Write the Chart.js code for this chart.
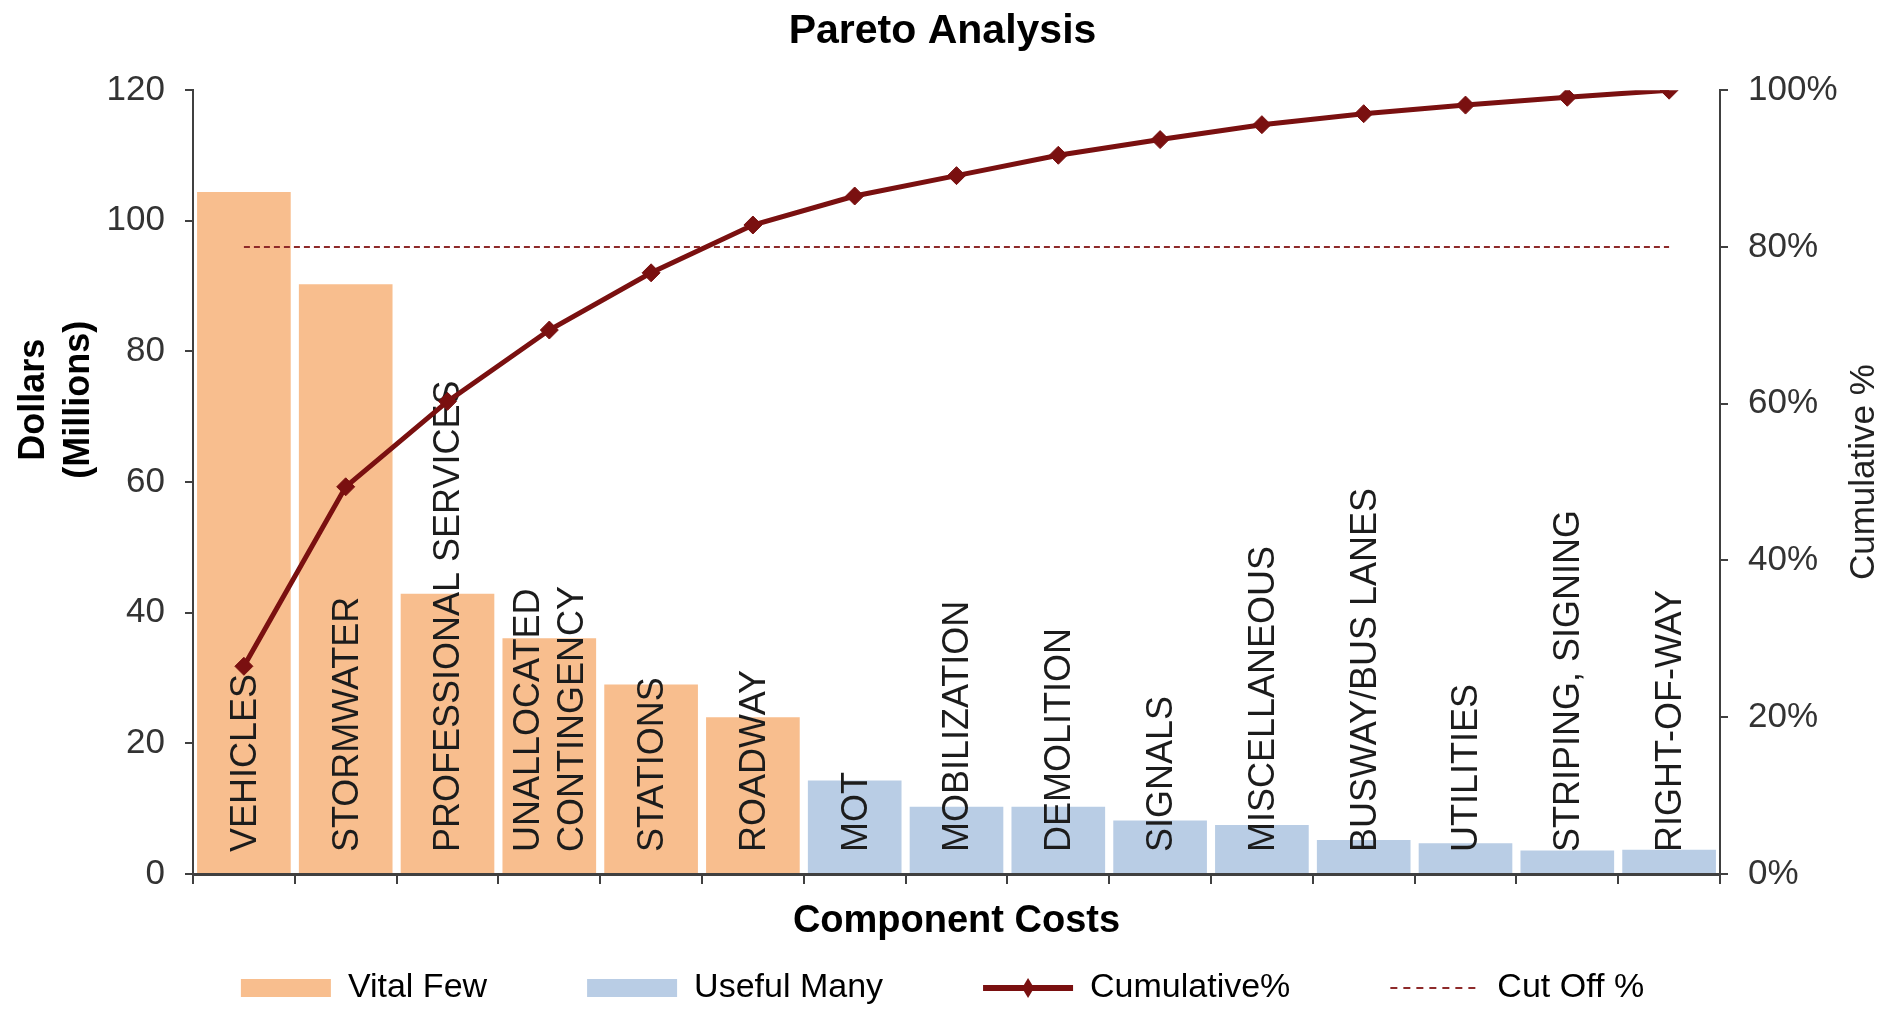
<!DOCTYPE html>
<html>
<head>
<meta charset="utf-8">
<script src="https://cdn.jsdelivr.net/npm/chart.js@4/dist/chart.umd.min.js"></script>
<style>
html, body { margin: 0; padding: 0; background: #ffffff; }
canvas { display: block; }
</style>
</head>
<body>
<canvas id="c" width="1885" height="1009"></canvas>
<script>
// ---- data ----
const categories = ['VEHICLES', 'STORMWATER', 'PROFESSIONAL SERVICES', 'UNALLOCATED\nCONTINGENCY', 'STATIONS', 'ROADWAY', 'MOT', 'MOBILIZATION', 'DEMOLITION', 'SIGNALS', 'MISCELLANEOUS', 'BUSWAY/BUS LANES', 'UTILITIES', 'STRIPING, SIGNING', 'RIGHT-OF-WAY'];
const vitalFew = [104.4, 90.3, 42.9, 36.1, 29.0, 24.0, null, null, null, null, null, null, null, null, null];
const usefulMany = [null, null, null, null, null, null, 14.3, 10.3, 10.3, 8.2, 7.5, 5.2, 4.7, 3.6, 3.7];
const cumulativePct = [26.5, 49.4, 60.3, 69.4, 76.7, 82.8, 86.5, 89.1, 91.7, 93.7, 95.6, 97.0, 98.1, 99.1, 100];
const cutOffPct = [80, 80, 80, 80, 80, 80, 80, 80, 80, 80, 80, 80, 80, 80, 80];
const seriesNames = ['Vital Few', 'Useful Many', 'Cumulative%', 'Cut Off %'];
const chartTitle = 'Pareto Analysis';
const xTitle = 'Component Costs';
const leftTitle = ['Dollars', '(Millions)'];
const rightTitle = 'Cumulative %';

// ---- styles ----
const FONT = "'Liberation Sans', Arial, Helvetica, sans-serif";
const ORANGE = '#F8BE8E';
const BLUE = '#B9CDE5';
const RED = '#7a1010';
const RED2 = '#8e2a2a';
const AXIS = '#404040';

Chart.defaults.font.family = FONT;
Chart.defaults.color = '#333';

let barsDrawn = 0;
const barLabels = {
  id: 'barLabels',
  beforeDatasetsDraw() { barsDrawn = 0; },
  afterDatasetDraw(chart, args) {
    if (args.meta.type !== 'bar') return;
    barsDrawn++;
    if (barsDrawn < 2) return;
    const ctx = chart.ctx;
    const xs = chart.scales.x;
    const base = chart.scales.y.getPixelForValue(0);
    ctx.save();
    ctx.font = '36px ' + FONT;
    ctx.fillStyle = '#1c1c1c';
    ctx.textAlign = 'left';
    ctx.textBaseline = 'middle';
    categories.forEach((c, i) => {
      const lines = c.split('\n');
      const px = xs.getPixelForValue(i) + 2;
      ctx.save();
      ctx.translate(px, base - 22);
      ctx.rotate(-Math.PI / 2);
      lines.forEach((ln, j) => ctx.fillText(ln, 0, (j - (lines.length - 1) / 2) * 44));
      ctx.restore();
    });
    ctx.restore();
  }
};

// nudges the bottom legend row up so it sits where the reference has it
const legendNudge = {
  id: 'legendNudge',
  afterLayout(chart) {
    const lg = chart.legend;
    if (lg) { lg.top -= 3; lg.bottom -= 3; }
  }
};

const extras = {
  id: 'extras',
  afterDraw(chart) {
    const ctx = chart.ctx;
    const a = chart.chartArea;
    ctx.save();
    ctx.textAlign = 'center';
    ctx.textBaseline = 'middle';
    // left axis title (two lines, rotated)
    ctx.fillStyle = '#000';
    ctx.font = 'bold 36px ' + FONT;
    const ly = a.top + (a.bottom - a.top) * 0.395;
    leftTitle.forEach((t, j) => {
      ctx.save();
      ctx.translate(34 + j * 45, ly);
      ctx.rotate(-Math.PI / 2);
      ctx.fillText(t, 0, 0);
      ctx.restore();
    });
    // right axis title (reads bottom to top)
    ctx.fillStyle = '#222';
    ctx.font = '35px ' + FONT;
    ctx.save();
    ctx.translate(chart.width - 21, (a.top + a.bottom) / 2 - 10);
    ctx.rotate(-Math.PI / 2);
    ctx.fillText(rightTitle, 0, 0);
    ctx.restore();
    // diamond marker on the Cumulative% legend line
    const lg = chart.legend;
    if (lg && lg.legendHitBoxes && lg.legendHitBoxes[2]) {
      const hb = lg.legendHitBoxes[2];
      const cx = hb.left + 45;
      const cy = hb.top + hb.height / 2;
      ctx.fillStyle = RED;
      ctx.beginPath();
      ctx.moveTo(cx, cy - 10);
      ctx.lineTo(cx + 6, cy);
      ctx.lineTo(cx, cy + 10);
      ctx.lineTo(cx - 6, cy);
      ctx.closePath();
      ctx.fill();
    }
    ctx.restore();
  }
};

new Chart(document.getElementById('c'), {
  type: 'bar',
  data: {
    labels: categories,
    datasets: [
      { type: 'bar', label: seriesNames[0], data: vitalFew, backgroundColor: ORANGE, grouped: false,
        barPercentage: 0.92, categoryPercentage: 1.0, yAxisID: 'y', order: 2 },
      { type: 'bar', label: seriesNames[1], data: usefulMany, backgroundColor: BLUE, grouped: false,
        barPercentage: 0.92, categoryPercentage: 1.0, yAxisID: 'y', order: 2 },
      { type: 'line', label: seriesNames[2], data: cumulativePct, borderColor: RED, backgroundColor: RED,
        borderWidth: 5, pointStyle: 'rectRot', pointRadius: 9, pointBackgroundColor: RED, pointBorderColor: RED,
        pointBorderWidth: 1, tension: 0, yAxisID: 'y1', order: 0 },
      { type: 'line', label: seriesNames[3], data: cutOffPct, borderColor: RED2, borderWidth: 2,
        borderDash: [6, 4], pointRadius: 0, tension: 0, yAxisID: 'y1', order: 1 }
    ]
  },
  options: {
    responsive: false,
    devicePixelRatio: 1,
    animation: false,
    events: [],
    layout: { padding: { left: 0, right: 0, top: 0, bottom: -9 } },
    plugins: {
      tooltip: { enabled: false },
      title: {
        display: true, text: chartTitle, color: '#000',
        font: { size: 41, weight: 'bold' }, padding: { top: 7, bottom: 34 }
      },
      legend: {
        position: 'bottom',
        labels: {
          usePointStyle: true, pointStyleWidth: 90, boxHeight: 18, padding: 100,
          font: { size: 34 }, color: '#1a1a1a',
          generateLabels: () => [
            { text: seriesNames[0], fillStyle: ORANGE, strokeStyle: ORANGE, lineWidth: 0, pointStyle: 'rect', datasetIndex: 0 },
            { text: seriesNames[1], fillStyle: BLUE, strokeStyle: BLUE, lineWidth: 0, pointStyle: 'rect', datasetIndex: 1 },
            { text: seriesNames[2], fillStyle: RED, strokeStyle: RED, lineWidth: 6, pointStyle: 'line', datasetIndex: 2 },
            { text: seriesNames[3], fillStyle: RED2, strokeStyle: RED2, lineWidth: 2, lineDash: [7, 6], pointStyle: 'line', datasetIndex: 3 }
          ]
        }
      }
    },
    scales: {
      x: {
        offset: true,
        grid: { display: true, drawOnChartArea: false, drawTicks: true, tickLength: 10, color: AXIS, lineWidth: 2, offset: true },
        border: { display: true, color: AXIS, width: 3 },
        ticks: { display: false },
        title: { display: true, text: xTitle, color: '#000', font: { size: 38, weight: 'bold' }, padding: { top: 0, bottom: -70 } },
        afterFit: (s) => { s.height = 0; }
      },
      y: {
        position: 'left', min: 0, max: 120,
        ticks: { stepSize: 20, font: { size: 35 }, color: '#333', padding: 20 },
        grid: { drawOnChartArea: false, drawTicks: true, tickLength: 8, color: AXIS, lineWidth: 2 },
        border: { display: true, color: AXIS, width: 2 },
        afterFit: (s) => { s.width = 193; }
      },
      y1: {
        position: 'right', min: 0, max: 100,
        ticks: { stepSize: 20, font: { size: 35 }, color: '#333', padding: 20, callback: (v) => v + '%' },
        grid: { drawOnChartArea: false, drawTicks: true, tickLength: 8, color: AXIS, lineWidth: 2 },
        border: { display: true, color: AXIS, width: 2 },
        afterFit: (s) => { s.width = 165; }
      }
    }
  },
  plugins: [barLabels, legendNudge, extras]
});
</script>
</body>
</html>
